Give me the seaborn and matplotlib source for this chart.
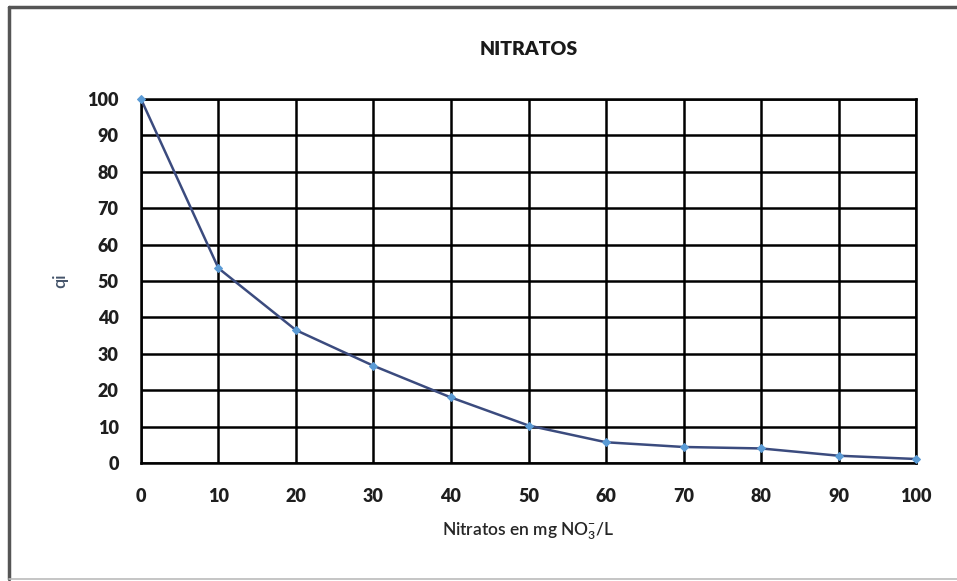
import matplotlib
matplotlib.use("Agg")
import matplotlib.pyplot as plt
import seaborn as sns
import pandas as pd
from matplotlib.lines import Line2D

# Nitrate concentration (mg NO3-/L) vs quality sub-index qi
nitratos = [0, 10, 20, 30, 40, 50, 60, 70, 80, 90, 100]
qi = [100, 53.5, 36.5, 26.7, 18.0, 10.3, 5.7, 4.4, 4.0, 2.0, 1.1]
x_ticks = [0, 10, 20, 30, 40, 50, 60, 70, 80, 90, 100]
y_ticks = [0, 10, 20, 30, 40, 50, 60, 70, 80, 90, 100]

df = pd.DataFrame({"nitratos": nitratos, "qi": qi})

sns.set_theme(style="white")
plt.rcParams["font.family"] = ["Lato", "DejaVu Sans"]
plt.rcParams["mathtext.fontset"] = "custom"
plt.rcParams["mathtext.rm"] = "Lato:semibold"
plt.rcParams["mathtext.it"] = "Lato:semibold"
plt.rcParams["mathtext.bf"] = "Lato:bold"

fig = plt.figure(figsize=(9.57, 5.81), dpi=100)
ax = fig.add_axes([0.1473, 0.2031, 0.9572 - 0.1473, 0.8296 - 0.2031])

sns.lineplot(data=df, x="nitratos", y="qi", ax=ax, color="#3B4B7E", linewidth=1.8,
             marker="D", markersize=4, markerfacecolor="#5B9BD5",
             markeredgecolor="#5B9BD5", zorder=5, clip_on=False)

ax.set_xlim(0, 100)
ax.set_ylim(0, 100)
ax.set_xticks(x_ticks)
ax.set_yticks(y_ticks)
ax.grid(True, color="black", linewidth=1.8)
ax.set_axisbelow(True)
for s in ax.spines.values():
    s.set_color("black")
    s.set_linewidth(1.8)

ax.tick_params(axis="both", length=0, labelsize=13, colors="#1e1e1e")
ax.tick_params(axis="x", pad=18)
ax.tick_params(axis="y", pad=16)
for lab in ax.get_xticklabels() + ax.get_yticklabels():
    lab.set_fontweight("heavy")

ax.set_xlabel("Nitratos en mg NO$_3^{-}$/L", fontsize=12.5, color="#262626",
              fontweight="semibold", labelpad=11)
ax.set_ylabel("qi", fontsize=13, color="#44546A", fontweight="semibold", labelpad=14)
ax.set_title("NITRATOS", fontsize=14, fontweight="heavy", color="#1a1a1a", pad=32)

# Chart frame
fig.add_artist(Line2D([9 / 957, 9 / 957], [1 - 7 / 581, 1 - 579 / 581],
                      transform=fig.transFigure, color="#555555", linewidth=2.5))
fig.add_artist(Line2D([9 / 957, 1.0], [1 - 7 / 581, 1 - 7 / 581],
                      transform=fig.transFigure, color="#555555", linewidth=2.5))
fig.add_artist(Line2D([9 / 957, 1.0], [1 - 579 / 581, 1 - 579 / 581],
                      transform=fig.transFigure, color="#bbbbbb", linewidth=1.2))

fig.savefig("out.png", dpi=100, facecolor="white")
